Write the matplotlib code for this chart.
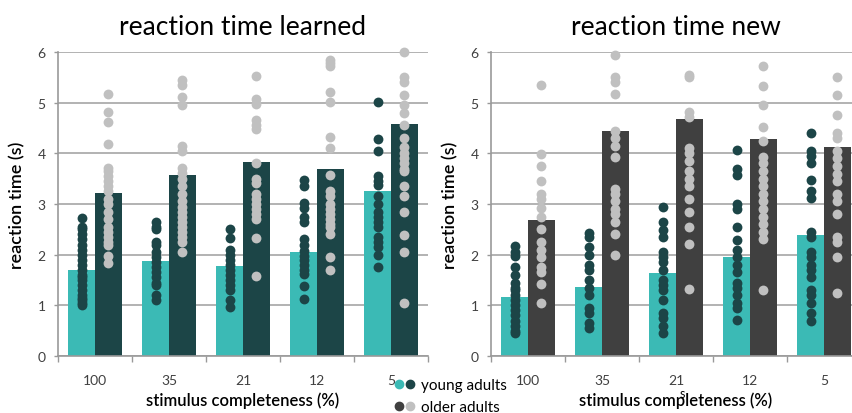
import matplotlib.pyplot as plt
from matplotlib.lines import Line2D
from matplotlib.legend_handler import HandlerTuple

plt.rcParams['font.family'] = ['Lato', 'DejaVu Sans']

categories = ['100', '35', '21', '12', '5']

# learned
learned_young_mean = [1.70, 1.88, 1.77, 2.06, 3.26]
learned_older_mean = [3.22, 3.58, 3.82, 3.70, 4.58]
learned_young_pts = [
    [2.72, 2.55, 2.5, 2.4, 2.3, 2.2, 2.1, 2.0, 1.9, 1.8, 1.7, 1.6, 1.55, 1.5, 1.4, 1.3, 1.2, 1.15, 1.1, 1.05, 1.0],
    [2.65, 2.55, 2.5, 2.25, 2.2, 2.05, 1.95, 1.85, 1.75, 1.65, 1.55, 1.45, 1.4, 1.2, 1.1],
    [2.5, 2.32, 2.1, 2.0, 1.9, 1.8, 1.7, 1.6, 1.5, 1.4, 1.3, 1.1, 0.97],
    [3.48, 3.35, 3.02, 2.92, 2.75, 2.65, 2.3, 2.2, 2.08, 1.98, 1.9, 1.8, 1.7, 1.62, 1.38, 1.12],
    [5.02, 4.28, 4.05, 3.55, 3.45, 3.38, 3.15, 3.0, 2.85, 2.75, 2.65, 2.55, 2.35, 2.25, 2.15, 2.0, 1.75],
]
learned_older_pts = [
    [5.17, 4.82, 4.62, 4.18, 3.72, 3.65, 3.55, 3.45, 3.35, 3.25, 3.1, 3.0, 2.85, 2.7, 2.55, 2.45, 2.35, 2.25, 2.2, 1.98, 1.84],
    [5.45, 5.35, 5.12, 4.95, 4.15, 4.05, 3.72, 3.62, 3.5, 3.35, 3.2, 3.05, 2.95, 2.85, 2.75, 2.65, 2.55, 2.45, 2.35, 2.25, 2.05],
    [5.52, 5.08, 4.98, 4.65, 4.55, 4.48, 3.8, 3.5, 3.42, 3.2, 3.1, 3.0, 2.9, 2.8, 2.7, 2.32, 1.58],
    [5.85, 5.78, 5.72, 5.22, 5.02, 4.32, 4.1, 3.58, 3.25, 3.15, 3.0, 2.9, 2.8, 2.7, 2.6, 2.55, 2.4, 1.95, 1.7],
    [6.0, 5.5, 5.4, 5.15, 4.95, 4.8, 4.55, 4.3, 4.12, 4.0, 3.9, 3.8, 3.7, 3.65, 3.35, 3.15, 2.85, 2.38, 2.05, 1.05],
]

# new
new_young_mean = [1.16, 1.37, 1.63, 1.96, 2.38]
new_older_mean = [2.68, 4.45, 4.67, 4.29, 4.13]
new_young_pts = [
    [2.18, 2.05, 1.98, 1.75, 1.6, 1.45, 1.35, 1.3, 1.2, 1.1, 1.0, 0.9, 0.8, 0.7, 0.6, 0.5, 0.45],
    [2.42, 2.35, 2.15, 2.0, 1.8, 1.7, 1.5, 1.35, 1.2, 0.95, 0.85, 0.65, 0.55],
    [2.95, 2.65, 2.48, 2.35, 2.05, 1.95, 1.85, 1.7, 1.5, 1.4, 1.3, 1.1, 0.85, 0.75, 0.6, 0.45],
    [4.07, 3.7, 3.58, 3.0, 2.9, 2.55, 2.28, 2.1, 1.95, 1.8, 1.65, 1.45, 1.35, 1.2, 1.05, 0.95, 0.72],
    [4.4, 4.05, 3.95, 3.8, 3.48, 3.25, 3.12, 2.45, 2.35, 2.05, 1.95, 1.8, 1.7, 1.55, 1.3, 1.2, 1.05, 0.85, 0.7],
]
new_older_pts = [
    [5.35, 3.98, 3.75, 3.45, 3.2, 3.1, 2.92, 2.75, 2.5, 2.25, 2.1, 1.95, 1.75, 1.65, 1.42, 1.05],
    [5.95, 5.5, 5.4, 5.18, 4.45, 4.3, 4.15, 3.92, 3.3, 3.2, 3.05, 2.9, 2.8, 2.65, 2.4, 2.0],
    [5.55, 5.5, 4.82, 4.72, 4.1, 4.0, 3.85, 3.65, 3.5, 3.35, 3.1, 2.85, 2.55, 2.22, 1.32],
    [5.72, 5.32, 4.95, 4.52, 4.25, 3.92, 3.8, 3.65, 3.5, 3.35, 3.2, 3.05, 2.9, 2.75, 2.6, 2.45, 2.3, 1.3],
    [5.5, 5.15, 4.75, 4.4, 4.3, 4.05, 3.9, 3.75, 3.6, 3.45, 3.2, 3.05, 2.8, 2.35, 2.25, 1.95, 1.25],
]

TEAL = '#3bbab5'
DARKTEAL = '#1c4547'
DARKGREY = '#404040'
LIGHTGREY = '#c0c0c0'
GRID = '#a6a6a6'
TXT = '#404040'

fig = plt.figure(figsize=(8.53, 4.14), dpi=100)
W, H = 853, 414


def panel(left_px, title, ym, om, ypts, opts, older_bar):
    ax = fig.add_axes([left_px / W, (H - 357) / H, 370 / W, 304 / H])
    bw = 0.36
    for i in range(len(categories)):
        ax.bar(i - bw / 2, ym[i], width=bw, color=TEAL, zorder=2)
        ax.bar(i + bw / 2, om[i], width=bw, color=older_bar, zorder=2)
        ax.scatter([i - bw / 2] * len(ypts[i]), ypts[i], s=50, color=DARKTEAL,
                   zorder=3, clip_on=False, linewidths=0)
        ax.scatter([i + bw / 2] * len(opts[i]), opts[i], s=50, color=LIGHTGREY,
                   zorder=3, clip_on=False, linewidths=0)
    ax.set_xlim(-0.5, len(categories) - 0.5)
    ax.set_ylim(0, 6)
    ax.set_yticks(range(7))
    ax.yaxis.grid(True, color=GRID, lw=1.2)
    ax.set_axisbelow(True)
    for s in ['top', 'right']:
        ax.spines[s].set_visible(False)
    for s in ['left', 'bottom']:
        ax.spines[s].set_color('#999999')
        ax.spines[s].set_linewidth(1.2)
    ax.set_xticks(range(len(categories)))
    ax.set_xticklabels(categories)
    ax.set_xticks([i - 0.5 for i in range(len(categories) + 1)], minor=True)
    ax.tick_params(axis='x', which='major', length=0, pad=13, labelsize=10, labelcolor=TXT)
    ax.tick_params(axis='x', which='minor', length=4, color='#999999', width=1)
    ax.tick_params(axis='y', length=3, color='#999999', width=1, pad=6, labelsize=10, labelcolor=TXT)
    ax.set_title(title, fontsize=19, color='black', pad=13)
    ax.set_ylabel('reaction time (s)', fontsize=13, fontweight='semibold', labelpad=9)
    ax.set_xlabel('stimulus completeness (%)', fontsize=12, fontweight='semibold', labelpad=4)
    return ax


panel(58, 'reaction time learned', learned_young_mean, learned_older_mean,
      learned_young_pts, learned_older_pts, DARKTEAL)
panel(491, 'reaction time new', new_young_mean, new_older_mean,
      new_young_pts, new_older_pts, DARKGREY)

mk = dict(marker='o', linestyle='none', markersize=6)
h_young = (Line2D([], [], color=TEAL, **mk), Line2D([], [], color=DARKTEAL, **mk))
h_old = (Line2D([], [], color=DARKGREY, **mk), Line2D([], [], color=LIGHTGREY, **mk))
fig.legend([h_young, h_old], ['young adults', 'older adults'],
           handler_map={tuple: HandlerTuple(ndivide=None, pad=0.1)},
           loc='upper left', bbox_to_anchor=(394 / W, 1 - 379 / H),
           frameon=False, fontsize=11, handlelength=1.4, handletextpad=0.4,
           labelspacing=0.55, borderaxespad=0, borderpad=0)

fig.text(682 / W, 1 - 394 / H, 's', fontsize=9, ha='center', va='center', color='black')

fig.savefig('out.png', dpi=100)
